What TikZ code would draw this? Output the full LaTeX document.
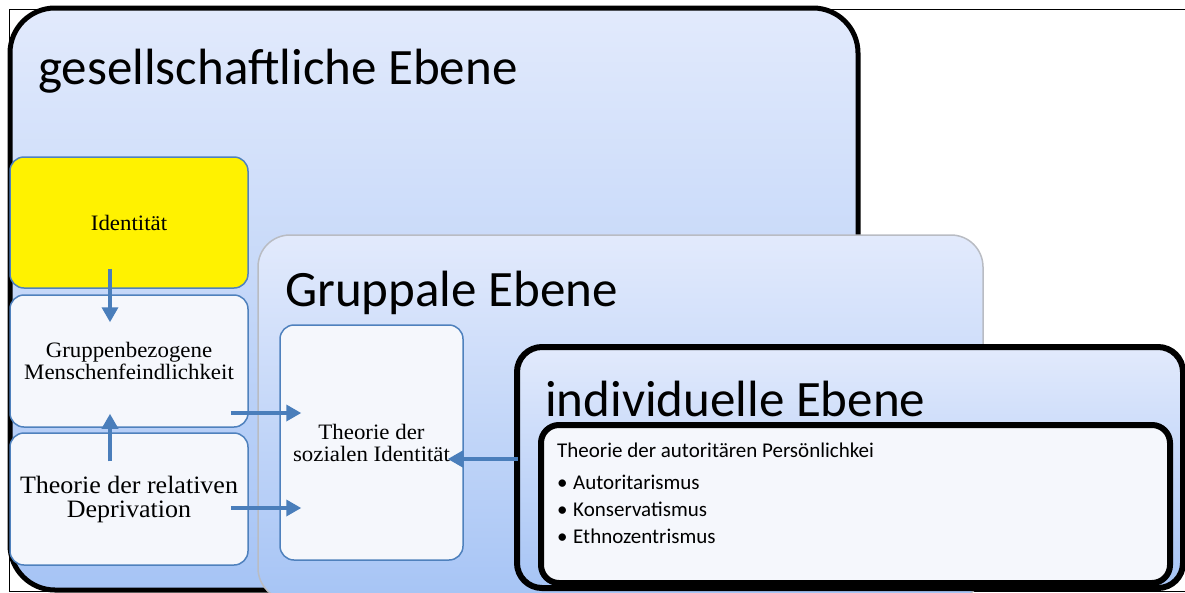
\documentclass[tikz,border=0pt]{standalone}
\usepackage{fontspec}
\usepackage{tikz}
\usetikzlibrary{arrows.meta}
\setmainfont{Carlito}
\newfontfamily\cambfont{Liberation Serif}[FakeStretch=1.04]
\definecolor{levelTop}{RGB}{226,234,252}
\definecolor{levelBot}{RGB}{166,196,245}
\definecolor{boxBlue}{RGB}{79,129,189}
\definecolor{arrowBlue}{RGB}{74,126,187}
\definecolor{boxFill}{RGB}{245,247,252}
\definecolor{shellGray}{RGB}{185,188,195}

\begin{document}
\begin{tikzpicture}[x=1pt,y=-1pt,
  ebene/.style={draw, rounded corners=#1, top color=levelTop, bottom color=levelBot, inner sep=0pt},
  theory/.style={draw=boxBlue, line width=1.5pt, fill=boxFill, rounded corners=14pt, align=center, inner sep=2pt, font=\cambfont\fontsize{22}{22}\selectfont},
  title/.style={anchor=base west, inner sep=0pt, font=\fontsize{51}{60}\selectfont},
  item/.style={anchor=base west, inner sep=0pt, font=\fontsize{21}{25}\selectfont},
  flow/.style={arrowBlue, line width=3.5pt, -{Triangle[width=16pt,length=15pt]}}]
\useasboundingbox (0,0) rectangle (1185,592);
\clip (0,0) rectangle (1185,592);
\draw[line width=1pt] (9,9) rectangle (1192,591);
\node[ebene=45pt, line width=5pt, minimum width=848pt, minimum height=582pt] (gesell) at (434,299) {};
\node[title] (gesellT) at (38,84) {gesellschaftliche Ebene};
\node[theory, fill=yellow, minimum width=238pt, minimum height=131pt] (ident) at (129,222.5) {Identität};
\node[theory, minimum width=238pt, minimum height=132pt] (gme) at (129,361) {Gruppenbezogene\\Menschenfeindlichkeit};
\node[theory, minimum width=238pt, minimum height=132pt, font=\cambfont\fontsize{25}{24}\selectfont] (depriv) at (129,499) {Theorie der relativen\\Deprivation};
\node[ebene=32pt, draw=shellGray, line width=1.5pt, minimum width=725pt, minimum height=365pt] (grupp) at (620.5,417.5) {};
\node[title] (gruppT) at (285,306) {Gruppale Ebene};
\node[theory, minimum width=183pt, minimum height=235pt] (sozid) at (371.5,442.5) {Theorie der\\sozialen Identität};
\node[ebene=25pt, line width=6pt, minimum width=666pt, minimum height=241pt] (indiv) at (850,467.5) {};
\node[title] (indivT) at (545,416) {individuelle Ebene};
\node[draw, line width=6pt, fill=boxFill, rounded corners=18pt, minimum width=629pt, minimum height=158pt, inner sep=0pt] (autor) at (855.5,504) {};
\node[item] (autorT) at (557,457) {Theorie der autoritären Persönlichkei};
\node[item] (item1) at (557,489) {\makebox[16pt][l]{\textbullet}Autoritarismus};
\node[item] (item2) at (557,516) {\makebox[16pt][l]{\textbullet}Konservatismus};
\node[item] (item3) at (557,543) {\makebox[16pt][l]{\textbullet}Ethnozentrismus};
\draw[flow] ([xshift=-19pt,yshift=20pt]ident.south) -- ([xshift=-19pt,yshift=-28pt]gme.north);
\draw[flow] ([xshift=-19pt,yshift=-29pt]depriv.north) -- ([xshift=-19pt,yshift=14pt]gme.south);
\draw[flow] ([xshift=-18pt,yshift=-52pt]gme.east) -- ([xshift=22pt,yshift=29.5pt]sozid.west);
\draw[flow] ([xshift=-18pt,yshift=-9pt]depriv.east) -- ([xshift=22pt,yshift=-65.5pt]sozid.west);
\draw[flow] ([xshift=4pt,yshift=8.5pt]indiv.west) -- ([xshift=-16pt,yshift=-16.5pt]sozid.east);
\end{tikzpicture}
\end{document}
